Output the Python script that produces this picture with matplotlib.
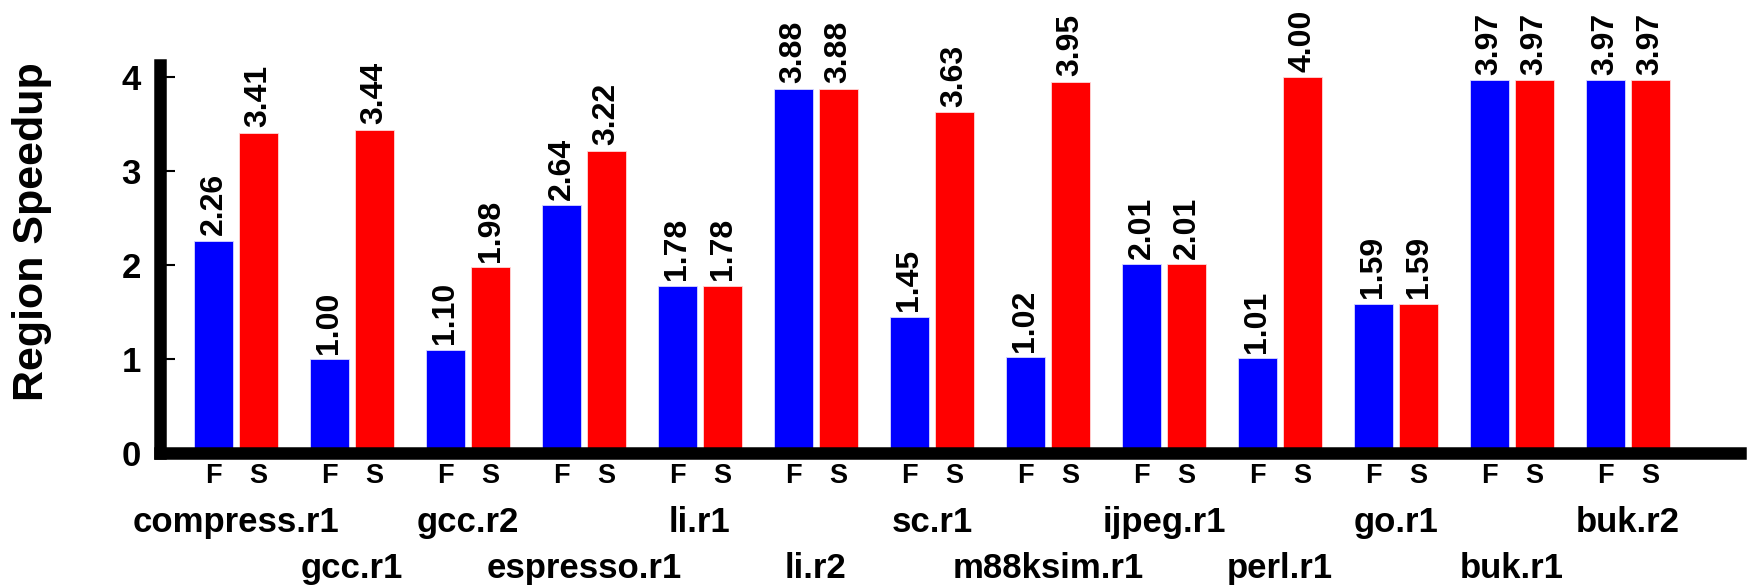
import matplotlib
matplotlib.use("Agg")
import matplotlib.pyplot as plt
import matplotlib.transforms as mtransforms
import numpy as np

plt.rcParams['font.family'] = ['Liberation Sans', 'DejaVu Sans']
plt.rcParams['font.weight'] = 'bold'

# data
regions = ['compress.r1', 'gcc.r1', 'gcc.r2', 'espresso.r1', 'li.r1', 'li.r2',
           'sc.r1', 'm88ksim.r1', 'ijpeg.r1', 'perl.r1', 'go.r1', 'buk.r1', 'buk.r2']
f_speedup = [2.26, 1.00, 1.10, 2.64, 1.78, 3.88, 1.45, 1.02, 2.01, 1.01, 1.59, 3.97, 3.97]
s_speedup = [3.41, 3.44, 1.98, 3.22, 1.78, 3.88, 3.63, 3.95, 2.01, 4.00, 1.59, 3.97, 3.97]
yticks = [0, 1, 2, 3, 4]

W, H = 1749, 587
fig = plt.figure(figsize=(W / 100, H / 100), dpi=100)

# axes box in pixels (from the top-left)
x0, x1 = 160.5, 1740
y0, y1 = 453.3, 65
ax = fig.add_axes([x0 / W, (H - y0) / H, (x1 - x0) / W, (y0 - y1) / H])

x = np.arange(len(regions))
bw = 0.336
off = 0.194
ax.bar(x - off, f_speedup, bw, color='#0000ff', edgecolor='#d8d8ff', linewidth=0.6, zorder=2)
ax.bar(x + off, s_speedup, bw, color='#ff0000', edgecolor='#ffd8d8', linewidth=0.6, zorder=2)

# value labels
for xi, f, s in zip(x, f_speedup, s_speedup):
    for xx, v in ((xi - off, f), (xi + off, s)):
        ax.annotate(f'{v:.2f}', (xx, v), xytext=(0, 4), textcoords='offset points',
                    rotation=90, ha='center', va='bottom', fontsize=23,
                    fontweight='bold', clip_on=False)

ax.set_xlim((x0 - 236) / 116, (x1 - 236) / 116)
ax.set_ylim(0, (y0 - y1) / 94)

for side in ('top', 'right'):
    ax.spines[side].set_visible(False)
for side in ('left', 'bottom'):
    ax.spines[side].set_linewidth(9)
    ax.spines[side].set_zorder(3)

ax.set_yticks(yticks)
ax.set_yticklabels([str(t) for t in yticks], fontsize=25, fontweight='bold')
ax.tick_params(axis='y', direction='in', length=11, width=1.5, pad=14)
ax.set_xticks([])

# F / S labels and the two rows of region names
trans = mtransforms.blended_transform_factory(ax.transData, ax.transAxes)
ah = y0 - y1
for xi in x:
    ax.text(xi - off, -(476 - y0) / ah, 'F', transform=trans, ha='center',
            va='center', fontsize=19.5, fontweight='bold')
    ax.text(xi + off, -(476 - y0) / ah, 'S', transform=trans, ha='center',
            va='center', fontsize=19.5, fontweight='bold')
for i, name in enumerate(regions):
    base = 532 if i % 2 == 0 else 578
    ax.text(i, -(base - y0) / ah, name, transform=trans, ha='center',
            va='baseline', fontsize=25, fontweight='bold')

fig.text(32 / W, (H - 232) / H, 'Region Speedup', rotation=90, ha='center',
         va='center', fontsize=31, fontweight='bold')

fig.savefig('out.png', dpi=100)
